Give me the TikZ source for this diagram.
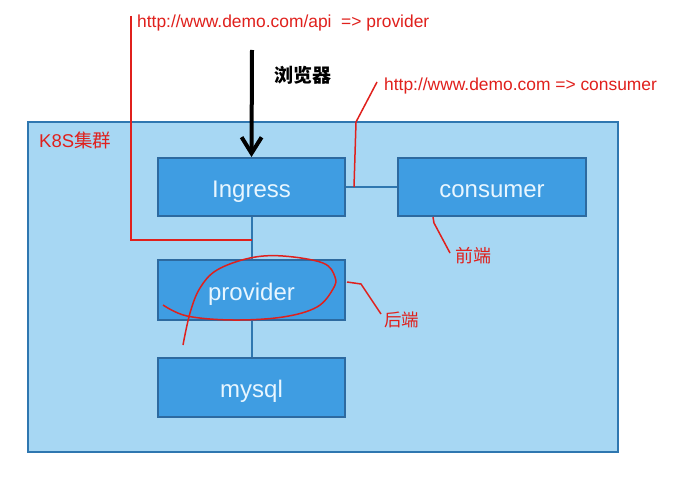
\documentclass[tikz,border=0pt]{standalone}
\usepackage{fontspec}
\setmainfont{Liberation Sans}
\newfontfamily\cjk{Noto Sans CJK SC}
\usetikzlibrary{arrows.meta}
\definecolor{outerfill}{HTML}{A7D7F3}
\definecolor{outerdraw}{HTML}{2F77B0}
\definecolor{boxfill}{HTML}{3F9DE2}
\definecolor{boxdraw}{HTML}{2D6AA0}
\definecolor{boxtext}{HTML}{E8F6FF}
\definecolor{note}{HTML}{E0201C}
\tikzset{
  outerbox/.style={draw=outerdraw, fill=outerfill, line width=2pt, minimum width=590pt, minimum height=330pt, inner sep=0pt},
  compbox/.style={draw=boxdraw, fill=boxfill, line width=2pt, text=boxtext, font=\fontsize{24}{28}\selectfont, inner sep=0pt, text height=24pt, text depth=4pt},
  link/.style={draw=outerdraw, line width=2pt},
  redline/.style={draw=note, line width=1.5pt},
  redtext/.style={text=note, font=\fontsize{17.4}{20}\selectfont, inner sep=0pt, anchor=west},
  cntext/.style={text=note, font=\cjk\fontsize{17.5}{20}\selectfont, inner sep=0pt, anchor=west}
}
\begin{document}
\begin{tikzpicture}[x=1pt,y=-1pt]
\useasboundingbox[fill=white] (0,0) rectangle (692,481);
\node[outerbox] (k8s) at (323,287) {};
\node[cntext, font=\fontsize{18.5}{20}\selectfont] (k8slabel) at (39,140) {K8S\cjk 集群};
\node[compbox, minimum width=187pt, minimum height=58pt] (ing) at (251.5,187) {Ingress};
\node[compbox, minimum width=188pt, minimum height=58pt] (con) at (492,187) {consumer};
\node[compbox, minimum width=187pt, minimum height=60pt] (pro) at (251.5,290) {provider};
\node[compbox, minimum width=187pt, minimum height=59pt] (db) at (251.5,387.5) {mysql};
\draw[link] (ing.east) -- (con.west);
\draw[link] (ing.south) -- (pro.north);
\draw[link] (pro.south) -- (db.north);
% browser arrow
\coordinate (top) at (252,50);
\draw[line width=4pt, -{Straight Barb[length=16pt,width=20pt,line width=4pt]}] (top) -- (ing.north);
\node[font=\cjk\bfseries\fontsize{19}{22}\selectfont, anchor=west, inner sep=0pt] (browser) at (274,75) {浏览器};
% annotations
\node[redtext] (apitext) at (137,23) {http://www.demo.com/api\ \ => provider};
\coordinate (a1) at (131,16);
\coordinate (a2) at (131,240);
\coordinate (a3) at (252,240);
\draw[redline] (a1) -- (a2) -- (a3);
\node[redtext] (context) at (384,86) {http://www.demo.com => consumer};
\coordinate (c1) at (354,187);
\coordinate (c2) at (356,122);
\coordinate (c3) at (377,82);
\draw[redline] (c1) -- (c2) -- (c3);
\node[cntext, font=\cjk\fontsize{18}{20}\selectfont] (front) at (455,256) {前端};
\coordinate (f1) at (433,217);
\coordinate (f2) at (434,223);
\coordinate (f3) at (450,253);
\draw[redline] (f1) -- (f2) -- (f3);
\node[cntext] (back) at (384,320) {后端};
\coordinate (b1) at (347,282);
\coordinate (b2) at (361,284);
\coordinate (b3) at (381,314);
\draw[redline] (b1) -- (b2) -- (b3);
\draw[redline] plot[smooth, tension=0.6] coordinates {(163,305) (187,316) (233,320) (283,317) (317,307) (333,289) (335,277) (323,263) (283,256) (250,258) (217,270) (200,288) (190,313) (183,345)};
\end{tikzpicture}
\end{document}
